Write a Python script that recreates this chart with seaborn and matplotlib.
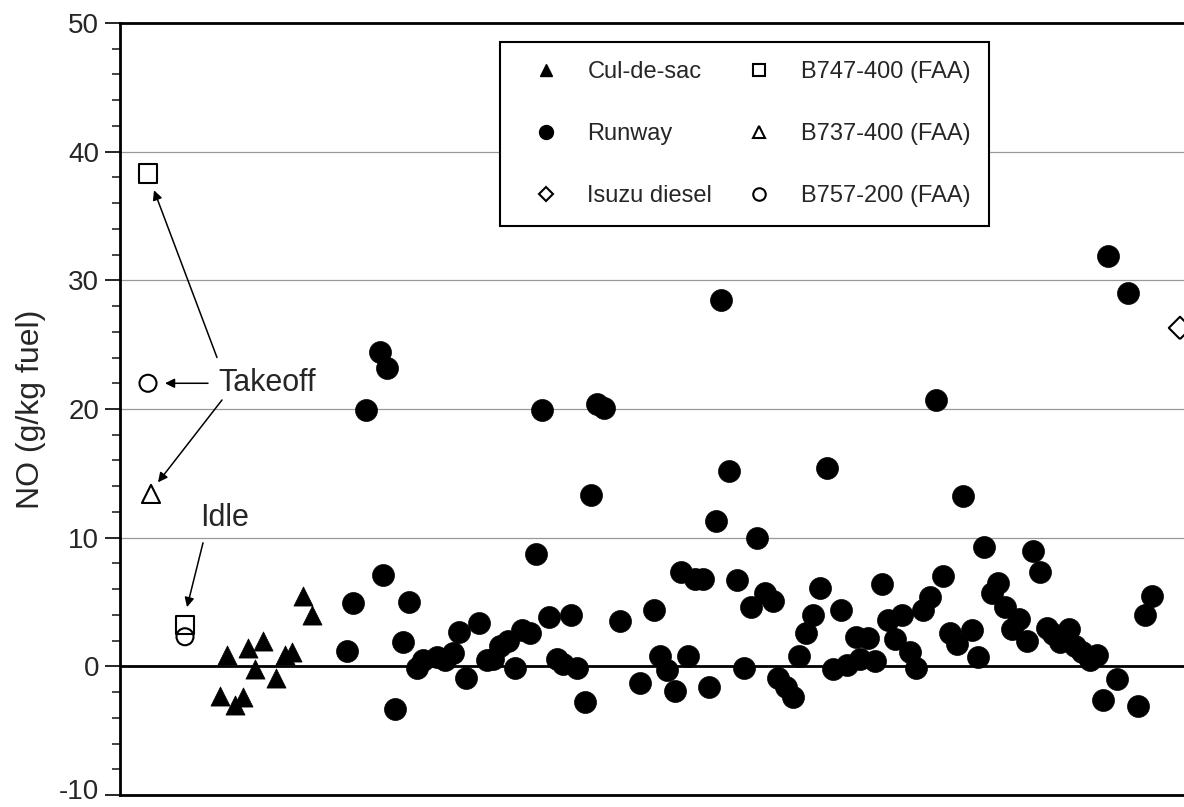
import matplotlib
matplotlib.use("Agg")
import matplotlib.pyplot as plt
import matplotlib.transforms as mtransforms
from matplotlib.lines import Line2D
import pandas as pd
import seaborn as sns

# sample sequence position (no scale shown on the x axis) and NO emission index
runway_seq = [22.7, 23.3, 24.6, 26.0, 26.7, 26.3, 27.5, 28.3, 28.9, 29.7, 30.3, 31.7, 32.5, 33.3,
              33.9, 34.6, 35.9, 36.7, 37.3, 38.0, 38.8, 39.5, 40.2, 41.0, 41.6, 42.2, 42.9, 43.7,
              44.3, 45.1, 45.7, 46.5, 47.1, 47.7, 48.4, 50.0, 52.0, 53.4, 54.0, 54.7, 55.5, 56.1,
              56.8, 57.5, 58.3, 58.9, 59.6, 60.1, 60.9, 61.7, 62.4, 63.1, 63.7, 64.5, 65.3, 65.8,
              66.6, 67.3, 67.9, 68.6, 69.3, 70.0, 70.7, 71.3, 72.1, 72.7, 73.6, 74.0, 74.8, 75.5,
              76.2, 76.8, 77.5, 78.2, 79.0, 79.6, 80.3, 81.0, 81.6, 82.3, 83.0, 83.7, 84.3, 85.2,
              85.8, 86.4, 87.2, 87.8, 88.5, 89.2, 89.9, 90.7, 91.3, 92.0, 92.7, 93.3, 94.0, 94.9,
              95.5, 96.2, 97.0, 97.7, 98.3, 98.8, 99.7, 100.8, 101.8, 102.5, 103.2]
runway_no = [1.2, 4.9, 19.9, 24.4, 23.2, 7.1, -3.3, 1.9, 5.0, -0.1, 0.5, 0.7, 0.5, 1.0,
             2.7, -0.9, 3.4, 0.5, 0.6, 1.6, 2.0, -0.1, 2.8, 2.6, 8.7, 19.9, 3.8, 0.6,
             0.2, 4.0, -0.1, -2.8, 13.3, 20.4, 20.1, 3.5, -1.3, 4.4, 0.8, -0.3, -1.9, 7.3,
             0.8, 6.8, 6.8, -1.6, 11.3, 28.5, 15.2, 6.7, -0.1, 4.6, 10.0, 5.7, 5.1, -0.9,
             -1.6, -2.4, 0.8, 2.6, 4.0, 6.1, 15.4, -0.2, 4.4, 0.1, 2.3, 0.6, 2.2, 0.4,
             6.4, 3.6, 2.1, 4.0, 1.1, -0.1, 4.4, 5.4, 20.7, 7.0, 2.6, 1.7, 13.2, 2.8,
             0.7, 9.3, 5.7, 6.5, 4.6, 2.9, 3.7, 2.0, 9.0, 7.3, 3.0, 2.5, 1.9, 2.9,
             1.6, 1.1, 0.5, 0.9, -2.6, 31.9, -1.0, 29.0, -3.1, 4.0, 5.5]

culdesac_seq = [10.7, 10.0, 11.5, 12.3, 12.8, 13.5, 14.3, 15.6, 16.5, 17.2, 18.3, 19.2]
culdesac_no = [0.85, -2.3, -3.0, -2.4, 1.4, -0.2, 2.0, -0.9, 0.85, 1.1, 5.5, 4.0]

isuzu_seq = [106.0]
isuzu_no = [26.3]

# FAA certification values: takeoff, idle
b747_seq = [2.8, 6.5]
b747_no = [38.3, 3.2]
b737_seq = [3.1]
b737_no = [13.4]
b757_seq = [2.8, 6.5]
b757_no = [22.0, 2.3]

sns.set_style("white")
plt.rcParams["font.family"] = ["Liberation Sans", "DejaVu Sans"]
plt.rcParams["axes.unicode_minus"] = False

fig = plt.figure(figsize=(11.84, 8.07), dpi=100)
ax = fig.add_axes([120 / 1184, 12 / 807, 1072 / 1184, 772 / 807])

runway = pd.DataFrame({"seq": runway_seq, "NO": runway_no})
culdesac = pd.DataFrame({"seq": culdesac_seq, "NO": culdesac_no})

sns.scatterplot(data=runway, x="seq", y="NO", marker="o", s=250, color="black",
                edgecolor="black", linewidth=0.5, ax=ax, zorder=4, clip_on=False)
sns.scatterplot(data=culdesac, x="seq", y="NO", marker="^", s=190, color="black",
                edgecolor="black", linewidth=0.5, ax=ax, zorder=4)

open_kw = dict(facecolors="none", edgecolor="black", linewidth=1.5, zorder=4)
sns.scatterplot(x=isuzu_seq, y=isuzu_no, marker="D", s=130, ax=ax, clip_on=True, **open_kw)
sns.scatterplot(x=b747_seq, y=b747_no, marker="s", s=170, ax=ax, **open_kw)
sns.scatterplot(x=b737_seq, y=b737_no, marker="^", s=170, ax=ax, **open_kw)
sns.scatterplot(x=b757_seq, y=b757_no, marker="o", s=150, ax=ax, **open_kw)

ax.set_xlim(0, 107.2)
ax.set_ylim(-10, 50)
ax.set_xticks([])
ax.set_yticks(range(-10, 51, 10))
ax.set_yticks(range(-10, 51, 2), minor=True)
ax.tick_params(axis="y", which="major", direction="out", length=11, width=1.4,
               labelsize=20, pad=4, left=True)
ax.tick_params(axis="y", which="minor", direction="out", length=6, width=1.2, left=True)
ax.set_xlabel("")
ax.set_ylabel("NO (g/kg fuel)", fontsize=23, labelpad=9)

# keep the lowest tick label inside the figure edge
fig.canvas.draw()
low = ax.get_yticklabels()[0]
low.set_transform(low.get_transform() +
                  mtransforms.ScaledTranslation(0, 4 / 72, fig.dpi_scale_trans))

for v in [10, 20, 30, 40]:
    ax.axhline(v, color="0.6", lw=0.9, zorder=1)
ax.axhline(0, color="black", lw=2, zorder=2)

for side in ["left", "top", "bottom"]:
    ax.spines[side].set_linewidth(2)
    ax.spines[side].set_color("black")
ax.spines["right"].set_visible(False)

# annotations
arrow = dict(arrowstyle="-|>", color="black", lw=1.1, mutation_scale=14, shrinkA=0, shrinkB=0)
ax.text(9.8, 22.0, "Takeoff", fontsize=22, ha="left", va="center")
ax.annotate("", xy=(3.4, 37.0), xytext=(9.7, 24.0), arrowprops=arrow)
ax.annotate("", xy=(4.5, 22.0), xytext=(8.8, 22.0), arrowprops=arrow)
ax.annotate("", xy=(3.8, 14.3), xytext=(10.2, 20.7), arrowprops=arrow)
ax.text(8.0, 11.5, "Idle", fontsize=22, ha="left", va="center")
ax.annotate("", xy=(6.7, 4.6), xytext=(8.3, 9.6), arrowprops=arrow)

handles = [
    Line2D([], [], marker="^", ls="none", color="black", markersize=9),
    Line2D([], [], marker="o", ls="none", color="black", markersize=10),
    Line2D([], [], marker="D", ls="none", mfc="none", mec="black", mew=1.5, markersize=7),
    Line2D([], [], marker="s", ls="none", mfc="none", mec="black", mew=1.5, markersize=9),
    Line2D([], [], marker="^", ls="none", mfc="none", mec="black", mew=1.5, markersize=9),
    Line2D([], [], marker="o", ls="none", mfc="none", mec="black", mew=1.5, markersize=9),
]
labels = ["Cul-de-sac", "Runway", "Isuzu diesel",
          "B747-400 (FAA)", "B737-400 (FAA)", "B757-200 (FAA)"]
leg = ax.legend(handles, labels, ncol=2, loc="upper left", bbox_to_anchor=(0.3545, 0.9755),
                borderaxespad=0, fontsize=17, frameon=True, fancybox=False, framealpha=1,
                edgecolor="black", borderpad=0.8, labelspacing=1.70,
                handlelength=2.3, handletextpad=0.6, columnspacing=0.85)
leg.get_frame().set_linewidth(1.5)
leg.set_zorder(5)

fig.savefig("out.png", dpi=100)
